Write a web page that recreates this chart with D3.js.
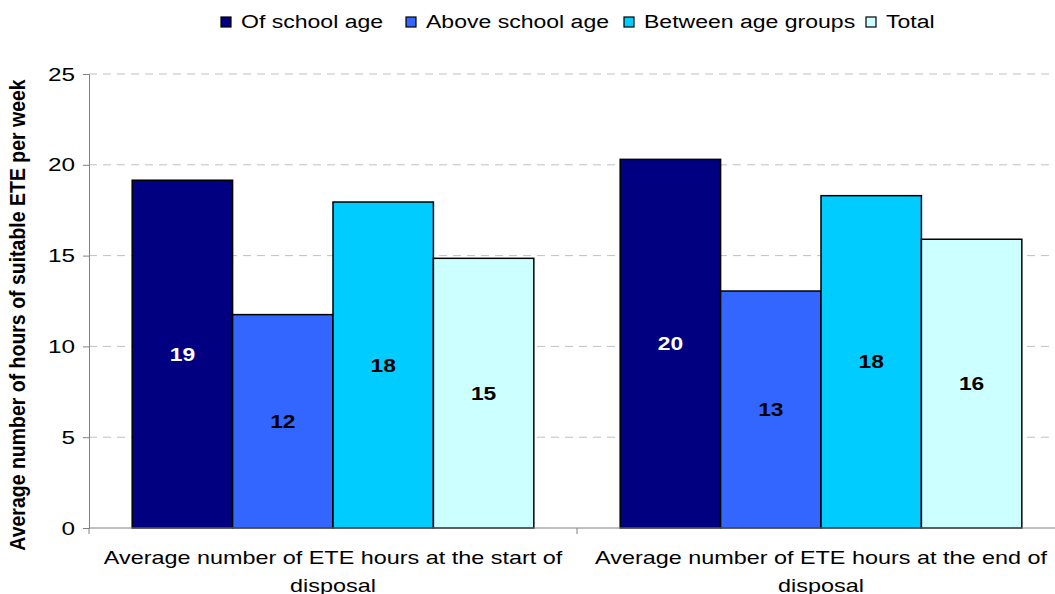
<!doctype html>
<html>
<head>
<style>
    body { margin: 0; background: #fff; }
    text { font-family: "Liberation Sans", Arial, sans-serif; }
</style>
<script src="https://d3js.org/d3.v7.min.js"></script>
</head>
<body>
<svg width="1055" height="594"></svg>
<script>
    var groups = [
        ["Average number of ETE hours at the start of", "disposal"],
        ["Average number of ETE hours at the end of", "disposal"]
    ];
    var series = ["Of school age", "Above school age", "Between age groups", "Total"];
    var colors = ["#000080", "#3366ff", "#00ccff", "#ccffff"];
    var labelColors = ["#fff", "#000", "#000", "#000"];
    // values per group, in series order
    var startValues = [19.15, 11.75, 17.95, 14.85];
    var endValues = [20.3, 13.05, 18.3, 15.9];
    var yTicks = [0, 5, 10, 15, 20, 25];

    var values = [startValues, endValues];

    var svg = d3.select("svg");
    var plotLeft = 89, plotRight = 1065, plotTop = 74, plotBottom = 528;
    var stretch = 1.28; // the original text is drawn wide

    var x0 = d3.scaleBand().domain([0, 1]).range([plotLeft, plotRight]);
    var x1 = d3.scaleBand().domain(d3.range(series.length))
        .range([0, x0.bandwidth()]).paddingOuter(0.43);
    var y = d3.scaleLinear().domain([0, 25]).range([plotBottom, plotTop]);

    // gridlines
    svg.append("g").selectAll("line")
        .data(yTicks.slice(1))
        .enter().append("line")
        .attr("x1", plotLeft).attr("x2", plotRight)
        .attr("y1", function(d) { return y(d); })
        .attr("y2", function(d) { return y(d); })
        .attr("stroke", "#c0c0c0")
        .attr("stroke-dasharray", "8,6");

    // bars
    var g = svg.append("g");
    values.forEach(function(vals, gi) {
        g.selectAll(".bar" + gi)
            .data(vals)
            .enter().append("rect")
            .attr("class", "bar" + gi)
            .attr("x", function(d, i) { return x0(gi) + x1(i); })
            .attr("y", function(d) { return y(d); })
            .attr("width", x1.bandwidth())
            .attr("height", function(d) { return plotBottom - y(d); })
            .attr("fill", function(d, i) { return colors[i]; })
            .attr("stroke", "#000")
            .attr("stroke-width", 1.5);

        g.selectAll(".lab" + gi)
            .data(vals)
            .enter().append("text")
            .attr("class", "lab" + gi)
            .attr("transform", function(d, i) {
                var cx = x0(gi) + x1(i) + x1.bandwidth() / 2;
                var cy = (y(d) + plotBottom) / 2;
                return "translate(" + cx + "," + cy + ") scale(1.2,1)";
            })
            .attr("dy", "0.35em")
            .attr("text-anchor", "middle")
            .attr("font-size", "19px")
            .attr("font-weight", "bold")
            .attr("fill", function(d, i) { return labelColors[i]; })
            .text(function(d) { return Math.round(d); });
    });

    // y axis
    var yAxis = svg.append("g")
        .attr("transform", "translate(" + plotLeft + ",0)")
        .call(d3.axisLeft(y).tickValues(yTicks).tickSize(6).tickPadding(0));
    yAxis.select(".domain").attr("stroke", "#808080");
    yAxis.selectAll(".tick line").attr("stroke", "#808080");
    yAxis.selectAll(".tick text")
        .attr("x", null)
        .attr("transform", "translate(-14,0) scale(" + stretch + ",1)")
        .attr("font-size", "19px")
        .attr("font-family", "Liberation Sans, Arial, sans-serif")
        .attr("fill", "#000");

    // x axis
    var xAxis = svg.append("g")
        .attr("transform", "translate(0," + plotBottom + ")");
    xAxis.append("line")
        .attr("x1", plotLeft).attr("x2", plotRight)
        .attr("stroke", "#808080");
    xAxis.selectAll(".xt")
        .data([plotLeft, x0(1), plotRight])
        .enter().append("line")
        .attr("x1", function(d) { return d; })
        .attr("x2", function(d) { return d; })
        .attr("y1", 0).attr("y2", 6)
        .attr("stroke", "#808080");

    groups.forEach(function(lines, gi) {
        lines.forEach(function(line, li) {
            svg.append("text")
                .attr("transform", "translate(" + (x0(gi) + x0.bandwidth() / 2) + "," + (564 + li * 28) + ") scale(1.3,1)")
                .attr("text-anchor", "middle")
                .attr("font-size", "18px")
                .attr("fill", "#000")
                .text(line);
        });
    });

    // y axis title
    svg.append("text")
        .attr("transform", "translate(25,315) scale(1.1,1) rotate(-90)")
        .attr("text-anchor", "middle")
        .attr("font-size", "19.5px")
        .attr("font-weight", "bold")
        .text("Average number of hours of suitable ETE per week");

    // legend
    var legendX = [221, 406, 624, 866];
    var legend = svg.append("g");
    series.forEach(function(s, i) {
        legend.append("rect")
            .attr("x", legendX[i]).attr("y", 17)
            .attr("width", 10).attr("height", 10)
            .attr("fill", colors[i])
            .attr("stroke", "#000")
            .attr("stroke-width", 1.2);
        legend.append("text")
            .attr("transform", "translate(" + (legendX[i] + 20) + ",28) scale(" + stretch + ",1)")
            .attr("font-size", "18px")
            .text(s);
    });
</script>
</body>
</html>
